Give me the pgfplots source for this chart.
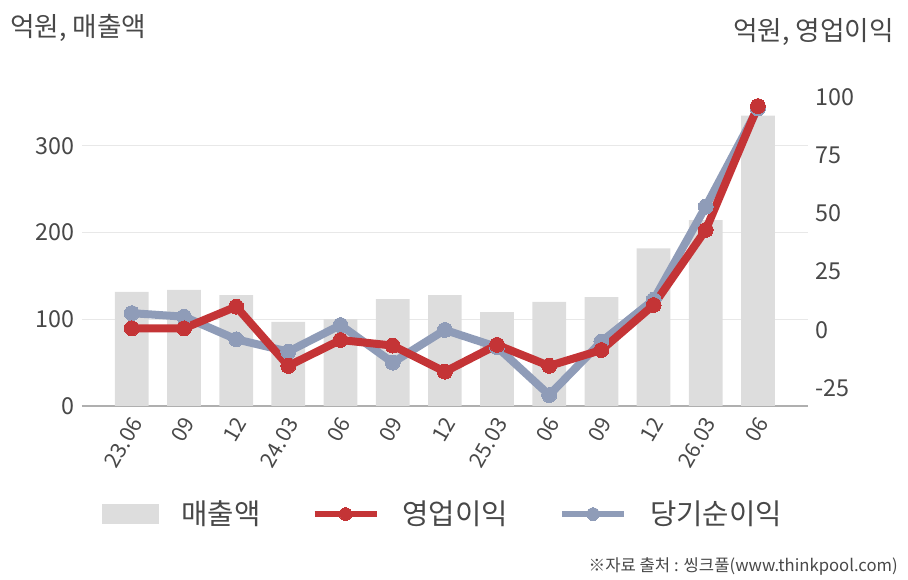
\documentclass[border=0pt]{standalone}
\usepackage{fontspec}
\setmainfont{Noto Sans CJK KR}
\usepackage{pgfplots}
\pgfplotsset{compat=1.18}
\definecolor{barcol}{RGB}{221,221,221}
\definecolor{redcol}{RGB}{196,52,54}
\definecolor{bluecol}{RGB}{143,156,184}
\definecolor{gridcol}{RGB}{232,232,232}
\definecolor{axiscol}{RGB}{175,175,175}
\definecolor{textcol}{RGB}{72,72,72}
\pgfplotsset{
  linelegend/.style={legend image code/.code={\draw[##1, line width=5pt, mark size=4.8pt, mark repeat=2, mark phase=2] plot coordinates {(0pt,0pt) (23.25pt,0pt) (46.5pt,0pt)};}},
  barlegend/.style={legend image code/.code={\fill[barcol] (0pt,-7.1pt) rectangle (42pt,7.1pt);}},
  redline/.style={color=redcol, line width=6pt, mark=*, mark size=5.6pt, mark options={fill=redcol, draw=redcol, line width=0pt}},
  blueline/.style={color=bluecol, line width=6pt, mark=*, mark size=5.6pt, mark options={fill=bluecol, draw=bluecol, line width=0pt}},
}
\begin{document}
\begin{tikzpicture}[x=0.75pt,y=0.75pt]
\useasboundingbox (0,0) rectangle (908,580);
% left axis: bars
\begin{axis}[
  at={(61.5pt,130.5pt)}, anchor=south west,
  width=544.5pt, height=237pt, scale only axis,
  xmin=-0.955, xmax=12.96, ymin=0, ymax=364.5,
  axis x line*=bottom, axis y line*=left,
  y axis line style={draw=none},
  x axis line style={draw=axiscol, line width=0.9pt},
  ytick={0,100,200,300},
  ymajorgrids, grid style={draw=gridcol, line width=0.8pt},
  major tick length=0pt,
  xtick={0,...,12},
  xticklabels={23.06,09,12,24.03,06,09,12,25.03,06,09,12,26.03,06},
  /pgf/number format/assume math mode=true,
  xticklabel style={font=\fontsize{16}{16}\selectfont, text=textcol, inner sep=0pt, xshift=3.5pt, yshift=-10pt, rotate=60, anchor=east},
  yticklabel style={font=\fontsize{17.5}{17.5}\selectfont, text=textcol, inner sep=0pt, xshift=-5.25pt},
  clip=false,
]
\addplot[ybar, bar width=25.3pt, fill=barcol, draw=none] coordinates {
(0,131.5) (1,133.8) (2,128) (3,96.9) (4,100.3) (5,123.4) (6,128) (7,108.4) (8,120) (9,125.7) (10,181.9) (11,214.5) (12,334.9)};
\end{axis}
% right axis: lines
\begin{axis}[
  at={(61.5pt,130.5pt)}, anchor=south west,
  width=544.5pt, height=237pt, scale only axis,
  xmin=-0.955, xmax=12.96, ymin=-32.6, ymax=102.9,
  axis x line=none, axis y line*=right,
  y axis line style={draw=none},
  ytick={-25,0,25,50,75,100},
  major tick length=0pt,
  /pgf/number format/assume math mode=true,
  yticklabel style={font=\fontsize{17.5}{17.5}\selectfont, text=textcol, inner sep=0pt, xshift=5.25pt, anchor=west},
  clip=false,
  legend columns=3,
  legend style={at={(0.0275,-0.342)}, anchor=west, draw=none, fill=none, inner sep=0pt,
    font=\fontsize{21.5}{21.5}\selectfont, text=textcol,
    nodes={inner sep=0pt, anchor=west},
    /tikz/every odd column/.append style={column sep=17pt},
    /tikz/every even column/.append style={column sep=38pt}},
]
\addlegendimage{barlegend}
\addlegendentry{매출액}
\addlegendimage{redline, linelegend}
\addlegendentry{영업이익}
\addlegendimage{blueline, linelegend}
\addlegendentry{당기순이익}
\addplot[blueline, forget plot] coordinates {
(0,7.2) (1,5.7) (2,-4.0) (3,-9.3) (4,2.1) (5,-14.0) (6,0.0) (7,-7.3) (8,-27.9) (9,-5.0) (10,12.9) (11,52.9) (12,95.0)};
\addplot[redline, forget plot] coordinates {
(0,0.7) (1,0.7) (2,10.0) (3,-15.4) (4,-4.3) (5,-6.7) (6,-17.9) (7,-6.4) (8,-15.4) (9,-8.6) (10,10.7) (11,42.9) (12,96.0)};
\end{axis}
\node[anchor=west, font=\fontsize{20}{20}\selectfont, text=textcol, inner sep=0pt] at (10,552) {억원, 매출액};
\node[anchor=east, font=\fontsize{20}{20}\selectfont, text=textcol, inner sep=0pt] at (894,548) {억원, 영업이익};
\node[anchor=east, font=\fontsize{12.5}{12.5}\selectfont, text=textcol, inner sep=0pt] at (898,14) {※자료 출처 : 씽크풀(www.thinkpool.com)};
\end{tikzpicture}
\end{document}
